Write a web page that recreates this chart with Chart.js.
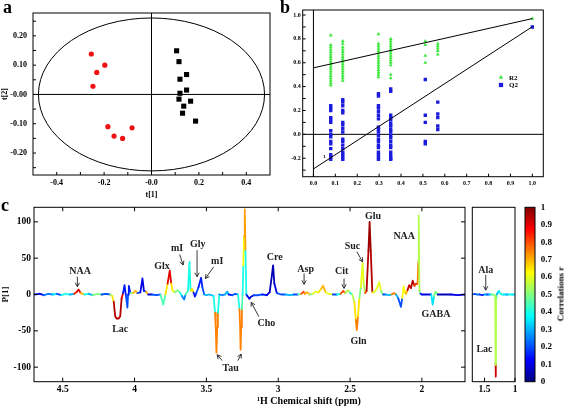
<!DOCTYPE html>
<html>
<head>
<meta charset="utf-8">
<title>Scores, permutation test and loadings</title>
<script src="https://cdn.jsdelivr.net/npm/chart.js@4.4.1/dist/chart.umd.min.js"></script>
<style>
  html, body { margin: 0; padding: 0; background: #fff; }
  body { position: relative; width: 567px; height: 407px; overflow: hidden;
         font-family: "Liberation Serif", "Times New Roman", serif; font-weight: bold; color: #000; }
  canvas { position: absolute; }
  .txt { position: absolute; white-space: nowrap; line-height: 1; }
</style>
</head>
<body>
<canvas id="chartA" width="290" height="200" style="left:0;top:0"></canvas>
<canvas id="chartB" width="287" height="200" style="left:280px;top:0"></canvas>
<canvas id="chartC" width="468" height="212" style="left:0;top:195px"></canvas>
<canvas id="chartD" width="60" height="212" style="left:468px;top:195px"></canvas>
<canvas id="chartE" width="52" height="212" style="left:515px;top:195px"></canvas>
<div class="txt" style="left:3px;top:-2px;font-size:18px">a</div>
<div class="txt" style="left:280px;top:-2px;font-size:18px">b</div>
<div class="txt" style="left:1px;top:196px;font-size:18px">c</div>
<div class="txt" style="left:309px;top:396px;font-size:10px;transform:translateX(-50%)">¹H Chemical shift (ppm)</div>
<div class="txt" style="left:561px;top:294px;font-size:9px;transform:translate(-50%,-50%) rotate(-90deg)">Correlations r</div>
<script>
// ---- panel a: scores
const ctrlX = [0.106, 0.116, 0.120, 0.148, 0.148, 0.120, 0.116, 0.165, 0.136, 0.131, 0.186];
const ctrlY = [0.149, 0.112, 0.052, 0.068, 0.015, 0.004, -0.016, -0.023, -0.040, -0.064, -0.091];
const modelX = [-0.254, -0.197, -0.231, -0.247, -0.184, -0.158, -0.122, -0.082];
const modelY = [0.138, 0.100, 0.075, 0.028, -0.110, -0.142, -0.150, -0.114];
const ellipseR = [0.477, 0.261];
const aTicksX = [-0.4, -0.3, -0.2, -0.1, 0, 0.1, 0.2, 0.3, 0.4];
const aTicksY = [-0.25, -0.2, -0.15, -0.1, -0.05, 0, 0.05, 0.1, 0.15, 0.2, 0.25];

// ---- panel b: permutation test
const permX = [0.079, 0.134, 0.297, 0.353, 0.511, 0.568, 1.0];
const r2Cols = [
  [0.83, 0.75, 0.73, 0.71, 0.69, 0.67, 0.65, 0.63, 0.61, 0.59, 0.57, 0.55, 0.53, 0.51, 0.49, 0.47, 0.45, 0.43, 0.41],
  [0.78, 0.76, 0.73, 0.71, 0.69, 0.67, 0.65, 0.63, 0.61, 0.59, 0.57, 0.55, 0.53, 0.51, 0.49, 0.47, 0.45],
  [0.84, 0.76, 0.74, 0.72, 0.70, 0.68, 0.66, 0.64, 0.62, 0.60, 0.58, 0.56, 0.54, 0.52, 0.50, 0.48],
  [0.80, 0.78, 0.76, 0.74, 0.72, 0.70, 0.68, 0.66, 0.64, 0.62, 0.60, 0.58, 0.50, 0.47],
  [0.78, 0.75, 0.66, 0.60],
  [0.76, 0.74, 0.72, 0.70, 0.67],
  [0.97]
];
const q2Cols = [
  [0.24, 0.22, 0.20, 0.14, 0.12, 0.10, 0.03, 0.00, -0.02, -0.06, -0.08, -0.12, -0.17, -0.19, -0.21],
  [0.29, 0.27, 0.24, 0.20, 0.18, 0.10, 0.08, 0.05, 0.02, -0.04, -0.06, -0.09, -0.12, -0.15, -0.17, -0.19, -0.21],
  [0.34, 0.32, 0.24, 0.22, 0.19, 0.16, 0.13, 0.06, 0.04, 0.02, -0.01, -0.04, -0.06, -0.09, -0.11, -0.15, -0.17, -0.19, -0.21],
  [0.38, 0.36, 0.16, 0.14, 0.12, 0.09, 0.07, 0.04, 0.02, -0.01, -0.03, -0.06, -0.09, -0.11, -0.15, -0.18, -0.20, -0.21],
  [0.46, 0.16, 0.10, -0.06, -0.08],
  [0.27, 0.17, 0.14, 0.07, 0.04],
  [0.90]
];
const fitX = [0, 1];
const r2Fit = [0.557, 0.970];
const q2Fit = [-0.290, 0.902];
const bTicksX = [0, 0.1, 0.2, 0.3, 0.4, 0.5, 0.6, 0.7, 0.8, 0.9, 1.0];
const bTicksY = [-0.3, -0.2, -0.1, 0, 0.1, 0.2, 0.3, 0.4, 0.5, 0.6, 0.7, 0.8, 0.9, 1.0];

// ---- panel c: loadings coloured by correlation
const specPpm = [4.70, 4.66, 4.63, 4.60, 4.57, 4.54, 4.51, 4.48, 4.45, 4.42,
  4.40, 4.39, 4.375, 4.35, 4.32, 4.29, 4.26, 4.23, 4.20, 4.17,
  4.155, 4.145, 4.135, 4.125, 4.11, 4.10, 4.09, 4.08, 4.07, 4.06,
  4.05, 4.045, 4.04, 4.03, 4.01, 3.995, 3.98, 3.96, 3.945, 3.935,
  3.92, 3.905, 3.88, 3.85, 3.82, 3.80, 3.785, 3.77, 3.755, 3.745,
  3.735, 3.72, 3.70, 3.685, 3.67, 3.655, 3.645, 3.628, 3.618, 3.61,
  3.60, 3.59, 3.58, 3.57, 3.555, 3.537, 3.528, 3.515, 3.50, 3.48,
  3.45, 3.44, 3.435, 3.43, 3.425, 3.42, 3.41, 3.39, 3.37, 3.355,
  3.345, 3.32, 3.30, 3.28, 3.27, 3.265, 3.262, 3.258, 3.253, 3.248,
  3.243, 3.238, 3.233, 3.228, 3.222, 3.215, 3.20, 3.19, 3.17, 3.14,
  3.11, 3.08, 3.06, 3.045, 3.036, 3.027, 3.01, 2.98, 2.95, 2.92,
  2.89, 2.86, 2.84, 2.825, 2.815, 2.80, 2.78, 2.76, 2.74, 2.72,
  2.70, 2.688, 2.67, 2.65, 2.62, 2.59, 2.565, 2.548, 2.535, 2.515,
  2.50, 2.485, 2.47, 2.46, 2.453, 2.445, 2.435, 2.425, 2.413, 2.405,
  2.395, 2.385, 2.372, 2.364, 2.356, 2.345, 2.33, 2.31, 2.297, 2.285,
  2.27, 2.25, 2.23, 2.21, 2.195, 2.18, 2.165, 2.146, 2.137, 2.127,
  2.118, 2.11, 2.10, 2.088, 2.076, 2.064, 2.052, 2.04, 2.03, 2.025,
  2.022, 2.017, 2.01, 2.00, 1.97, 1.935, 1.925, 1.915, 1.905, 1.89,
  1.85, 1.80, 1.75, 1.70];
const specP = [0, 1, -1, 1, 0, 1, -1, 1, 0, 1,
  4, 7, 2, 0, 1, -1, 1, 0, 1, 0,
  -2, -10, -30, -33, -33, -30, -5, 2, 13, -2,
  -18, 0, 12, 2, 2, 5, 2, 3, 22, 5,
  4, 0, 0, -1, 0, -14, 0, 15, 33, 15,
  5, 3, 6, 3, -2, -7, 0, 5, 45, 5,
  8, 3, -3, 2, 10, 23, 10, 0, -1, 0,
  -2, -25, -45, -80, -45, -25, 0, -1, 0, 4,
  0, -1, 1, 0, -20, -45, -76, -45, -20, 0,
  40, 80, 117, 60, 0, -2, -6, -3, -1, -1,
  0, -1, 3, 25, 40, 15, 2, 0, 0, -1,
  0, 0, 1, 4, 1, 3, 0, 1, 4, 3,
  8, 12, 3, 1, 0, 0, 1, 5, 2, 6,
  2, 0, -10, -35, -49, -30, -5, 10, 43, 15,
  2, 5, 60, 100, 60, 3, 3, 10, 17, 5,
  0, 0, -1, 0, 2, 0, -5, -17, -5, 11,
  3, 1, 6, 13, 9, 19, 12, 15, 15, 45,
  109, 5, 1, 0, 0, 0, -14, -2, 4, 0,
  0, 0, -1, 0];
const specR = [0.10, 0.15, 0.10, 0.25, 0.15, 0.35, 0.20, 0.40, 0.15, 0.30,
  0.85, 0.90, 0.70, 0.50, 0.40, 0.30, 0.50, 0.35, 0.20, 0.30,
  0.55, 0.65, 0.95, 0.95, 0.95, 0.95, 0.90, 0.30, 0.15, 0.15,
  0.20, 0.20, 0.15, 0.20, 0.50, 0.70, 0.60, 0.20, 0.10, 0.15,
  0.70, 0.40, 0.10, 0.20, 0.40, 0.45, 0.50, 0.65, 0.90, 0.65,
  0.60, 0.55, 0.50, 0.40, 0.20, 0.25, 0.30, 0.45, 0.40, 0.55,
  0.65, 0.50, 0.15, 0.20, 0.20, 0.15, 0.20, 0.30, 0.30, 0.15,
  0.30, 0.40, 0.75, 0.75, 0.75, 0.40, 0.30, 0.25, 0.15, 0.30,
  0.25, 0.15, 0.20, 0.30, 0.40, 0.75, 0.75, 0.75, 0.45, 0.40,
  0.40, 0.62, 0.72, 0.40, 0.35, 0.20, 0.10, 0.10, 0.15, 0.20,
  0.10, 0.15, 0.10, 0.05, 0.05, 0.10, 0.20, 0.30, 0.20, 0.30,
  0.10, 0.20, 0.50, 0.80, 0.75, 0.70, 0.35, 0.50, 0.60, 0.55,
  0.65, 0.70, 0.60, 0.60, 0.35, 0.20, 0.40, 0.80, 0.60, 0.55,
  0.40, 0.35, 0.55, 0.65, 0.75, 0.65, 0.60, 0.50, 0.60, 0.55,
  0.70, 0.80, 0.95, 0.97, 0.95, 0.80, 0.60, 0.60, 0.60, 0.50,
  0.35, 0.20, 0.30, 0.25, 0.75, 0.60, 0.30, 0.20, 0.30, 0.62,
  0.65, 0.50, 0.70, 0.92, 0.90, 0.95, 0.95, 0.80, 0.90, 0.75,
  0.55, 0.50, 0.15, 0.05, 0.10, 0.10, 0.35, 0.30, 0.50, 0.15,
  0.05, 0.05, 0.10, 0.05];
const cTicksX = [4.5, 4, 3.5, 3, 2.5, 2];
const cTicksY = [-100, -50, 0, 50, 100];

const annoText = ['NAA', 'Lac', 'Glx', 'mI', 'Gly', 'mI', 'Cre', 'Cho', 'Tau', 'Asp', 'Cit', 'Suc', 'Glu', 'Gln', 'NAA', 'GABA'];
const annoPpm = [4.379, 4.100, 3.809, 3.704, 3.560, 3.425, 3.025, 3.083, 3.332, 2.809, 2.558, 2.483, 2.340, 2.441, 2.123, 1.902];
const annoP = [32, -47.5, 39, 63.6, 69.5, 45, 50.6, -39.6, -101.6, 34.7, 31.4, 66.7, 107, -65, 79.5, -27];
// arrows: [from ppm, from P, to ppm, to P]
const annoArrows = [
  [4.398, 24.5, 4.398, 10.7], [3.686, 55, 3.662, 40.6], [3.565, 61, 3.565, 24.5],
  [3.449, 38, 3.507, 22], [3.135, -30.5, 3.188, -10.7], [3.390, -91, 3.425, -83],
  [3.281, -91, 3.258, -82], [2.820, 29, 2.820, 14], [2.542, 22, 2.542, 8.5],
  [2.453, 59, 2.413, 45]
];

// ---- panel c inset (1.7 - 1.0 ppm)
const insetPpm = [1.70, 1.66, 1.62, 1.58, 1.54, 1.50, 1.46, 1.42, 1.38, 1.35,
  1.325, 1.32, 1.318, 1.316, 1.314, 1.31, 1.30, 1.28, 1.265, 1.25,
  1.22, 1.18, 1.14, 1.10, 1.05, 1.00];
const insetP = [0, 1, 0, 0, -1, 0, 0, 0, 0, 0,
  -2, -60, -95, -113, -97, -5, 0, 3, 5, 2,
  0, 0, 0, 0, 0, 0];
const insetR = [0.10, 0.20, 0.10, 0.25, 0.15, 0.20, 0.30, 0.20, 0.35, 0.50,
  0.50, 0.55, 0.55, 0.92, 0.55, 0.50, 0.45, 0.30, 0.35, 0.40,
  0.30, 0.40, 0.35, 0.30, 0.40, 0.35];
const insetTicksX = [1.5, 1.0];
const insetText = ['Ala', 'Lac'];
const insetTextPpm = [1.48, 1.50];
const insetTextP = [33.7, -76];
const insetArrows = [[1.48, 27, 1.48, 6]];

const cbarTicks = [0, 0.1, 0.2, 0.3, 0.4, 0.5, 0.6, 0.7, 0.8, 0.9, 1];

// ---------------------------------------------------------------
const FONT = '"Liberation Serif", "Times New Roman", serif';
Chart.defaults.font.family = FONT;
Chart.defaults.font.weight = 'bold';
Chart.defaults.color = '#000';
Chart.defaults.animation = false;
Chart.defaults.responsive = false;
Chart.defaults.devicePixelRatio = 1;
Chart.defaults.events = [];
Chart.defaults.plugins.legend.display = false;
Chart.defaults.plugins.tooltip.enabled = false;

function jet(t) {
  t = Math.max(0, Math.min(1, t));
  const c = v => Math.round(255 * Math.max(0, Math.min(1, v)));
  return 'rgb(' + c(1.5 - Math.abs(4 * t - 3)) + ',' + c(1.5 - Math.abs(4 * t - 2)) + ',' + c(1.5 - Math.abs(4 * t - 1)) + ')';
}

function axis(o) {
  return {
    type: 'linear', min: o.min, max: o.max, reverse: !!o.reverse,
    position: o.position, display: o.display !== false,
    grid: { display: false, drawTicks: false },
    border: { display: false },
    afterBuildTicks: s => { s.ticks = o.ticks.map(v => ({ value: v })); },
    afterFit: s => { if (s.isHorizontal()) s.height = o.size; else s.width = o.size; },
    ticks: { autoSkip: false, maxRotation: 0, minRotation: 0, padding: o.pad,
             font: { size: o.font }, callback: o.fmt, display: o.labels !== false },
    title: o.title ? { display: true, text: o.title, padding: 0, font: { size: o.titleSize } } : { display: false }
  };
}

// box round the plot area with inward tick marks
function framePlugin(o) {
  return {
    id: 'frame',
    afterDatasetsDraw(chart) {
      const { ctx, chartArea: a, scales } = chart;
      const L = o.len || 4;
      ctx.save();
      ctx.strokeStyle = '#000';
      ctx.lineWidth = 1;
      ctx.strokeRect(a.left, a.top, a.right - a.left, a.bottom - a.top);
      ctx.beginPath();
      if (o.x) scales.x.ticks.forEach(t => {
        const p = scales.x.getPixelForValue(t.value);
        if (o.x.includes('b')) { ctx.moveTo(p, a.bottom); ctx.lineTo(p, a.bottom - L); }
        if (o.x.includes('t')) { ctx.moveTo(p, a.top); ctx.lineTo(p, a.top + L); }
      });
      if (o.y) scales.y.ticks.forEach(t => {
        const p = scales.y.getPixelForValue(t.value);
        if (o.y.includes('l')) { ctx.moveTo(a.left, p); ctx.lineTo(a.left + L, p); }
        if (o.y.includes('r')) { ctx.moveTo(a.right, p); ctx.lineTo(a.right - L, p); }
      });
      ctx.stroke();
      ctx.restore();
    }
  };
}

function crossPlugin(ellipse) {
  return {
    id: 'cross',
    beforeDatasetsDraw(chart) {
      const { ctx, chartArea: a, scales: { x, y } } = chart;
      const cx = x.getPixelForValue(0), cy = y.getPixelForValue(0);
      ctx.save();
      ctx.strokeStyle = '#000';
      ctx.lineWidth = 1;
      ctx.beginPath();
      ctx.moveTo(a.left, cy); ctx.lineTo(a.right, cy);
      ctx.moveTo(cx, a.top); ctx.lineTo(cx, a.bottom);
      if (ellipse) {
        const rx = x.getPixelForValue(ellipse[0]) - cx;
        const ry = cy - y.getPixelForValue(ellipse[1]);
        ctx.moveTo(cx + rx, cy);
        ctx.ellipse(cx, cy, rx, ry, 0, 0, Math.PI * 2);
      }
      ctx.stroke();
      ctx.restore();
    }
  };
}

function arrow(ctx, x0, y0, x1, y1) {
  const ang = Math.atan2(y1 - y0, x1 - x0), h = 4.5;
  ctx.beginPath();
  ctx.moveTo(x0, y0); ctx.lineTo(x1, y1);
  ctx.moveTo(x1 - h * Math.cos(ang - 0.5), y1 - h * Math.sin(ang - 0.5));
  ctx.lineTo(x1, y1);
  ctx.lineTo(x1 - h * Math.cos(ang + 0.5), y1 - h * Math.sin(ang + 0.5));
  ctx.stroke();
}

function annoPlugin(texts, tx, ty, arrows) {
  return {
    id: 'anno',
    afterDatasetsDraw(chart) {
      const { ctx, scales: { x, y } } = chart;
      ctx.save();
      ctx.font = 'bold 10px ' + FONT;
      ctx.fillStyle = '#222';
      ctx.strokeStyle = '#222';
      ctx.lineWidth = 0.9;
      ctx.textAlign = 'center';
      ctx.textBaseline = 'middle';
      texts.forEach((t, i) => ctx.fillText(t, x.getPixelForValue(tx[i]), y.getPixelForValue(ty[i])));
      arrows.forEach(a => arrow(ctx, x.getPixelForValue(a[0]), y.getPixelForValue(a[1]),
                                     x.getPixelForValue(a[2]), y.getPixelForValue(a[3])));
      ctx.restore();
    }
  };
}

// segment takes the colour of its more extreme end point
function segColor(P, R) {
  return c => {
    const i = c.p0DataIndex, j = c.p1DataIndex;
    return jet(Math.abs(P[j]) >= Math.abs(P[i]) ? R[j] : R[i]);
  };
}

const pts = (xs, ys) => xs.map((v, i) => ({ x: v, y: ys[i] }));

// ---- a
new Chart(document.getElementById('chartA'), {
  type: 'scatter',
  data: {
    datasets: [
      { data: pts(ctrlX, ctrlY), pointStyle: 'rect', pointRadius: 3.6, backgroundColor: '#000', borderWidth: 0 },
      { data: pts(modelX, modelY), pointStyle: 'circle', pointRadius: 2.6, backgroundColor: '#f01212', borderWidth: 0 }
    ]
  },
  options: {
    layout: { padding: { top: 13, right: 20, left: 0, bottom: 0 } },
    scales: {
      x: axis({ min: -0.5, max: 0.5, ticks: aTicksX, size: 25, pad: 3, font: 8, title: 't[1]', titleSize: 8,
                fmt: v => Math.round(Math.abs(v) * 10) % 2 ? '' : (v === 0 ? '-0.0' : v.toFixed(1)) }),
      y: axis({ min: -0.275, max: 0.278, ticks: aTicksY, size: 33, pad: 6, font: 8, title: 't[2]', titleSize: 8,
                fmt: v => Math.round(Math.abs(v) * 100) % 10 ? '' : (v === 0 ? '-0.00' : v.toFixed(2)) })
    }
  },
  plugins: [crossPlugin(ellipseR), framePlugin({ x: 'b', y: 'l', len: 3 })]
});

// ---- b
const r2Pts = [], q2Pts = [];
permX.forEach((px, k) => {
  r2Cols[k].forEach(v => r2Pts.push({ x: px, y: v }));
  q2Cols[k].forEach(v => q2Pts.push({ x: px, y: v }));
});
const legendB = {
  id: 'legendB',
  afterDraw(chart) {
    const ctx = chart.ctx;
    ctx.save();
    ctx.fillStyle = '#3ee63e';
    Chart.helpers.drawPoint(ctx, { pointStyle: 'triangle', radius: 2.6, rotation: 0, borderWidth: 0 }, 221, 77.5);
    ctx.fillStyle = '#1c1cdc';
    Chart.helpers.drawPoint(ctx, { pointStyle: 'rect', radius: 3, rotation: 0, borderWidth: 0 }, 221, 85);
    ctx.fillStyle = '#000';
    ctx.font = 'bold 7px ' + FONT;
    ctx.textBaseline = 'middle';
    ctx.fillText('R2', 229, 78);
    ctx.fillText('Q2', 229, 85.5);
    ctx.font = 'bold 5px ' + FONT;
    const { x, y } = chart.scales;
    ctx.fillText('1', x.getPixelForValue(0.045), y.getPixelForValue(-0.19));
    ctx.restore();
  }
};
new Chart(document.getElementById('chartB'), {
  type: 'scatter',
  data: {
    datasets: [
      { type: 'line', data: pts(fitX, r2Fit), borderColor: '#000', borderWidth: 1, pointRadius: 0 },
      { type: 'line', data: pts(fitX, q2Fit), borderColor: '#000', borderWidth: 1, pointRadius: 0 },
      { label: 'R2', data: r2Pts, pointStyle: 'triangle', pointRadius: 2.2, backgroundColor: '#3ee63e', borderWidth: 0 },
      { label: 'Q2', data: q2Pts, pointStyle: 'rect', pointRadius: 2.4, backgroundColor: '#1c1cdc', borderWidth: 0 }
    ]
  },
  options: {
    layout: { padding: { top: 10, right: 23.7, left: 0, bottom: 0 } },
    scales: {
      x: axis({ min: -0.049, max: 1.05, ticks: bTicksX, size: 23.3, pad: 3, font: 6, fmt: v => v.toFixed(1) }),
      y: axis({ min: -0.355, max: 1.042, ticks: bTicksY, size: 22.7, pad: 2, font: 6,
                fmt: v => Math.round(Math.abs(v) * 10) % 2 ? '' : v.toFixed(1) })
    }
  },
  plugins: [crossPlugin(null), framePlugin({ x: 'b', y: 'l', len: 3 }), legendB]
});

// ---- c main
new Chart(document.getElementById('chartC'), {
  type: 'line',
  data: {
    datasets: [{
      data: pts(specPpm, specP), borderWidth: 1.8, pointRadius: 0, tension: 0,
      borderColor: jet(0.1), borderJoinStyle: 'round', borderCapStyle: 'round',
      segment: { borderColor: segColor(specP, specR) }
    }]
  },
  options: {
    layout: { padding: { top: 12.3, right: 3, left: 0, bottom: 0 } },
    scales: {
      x: axis({ min: 1.7, max: 4.7, reverse: true, ticks: cTicksX, size: 25.3, pad: 2, font: 9.5, fmt: v => String(v) }),
      y: axis({ min: -120, max: 120, ticks: cTicksY, size: 34, pad: 3, font: 9.5, title: 'P[1]', titleSize: 9, fmt: v => String(v) })
    }
  },
  plugins: [framePlugin({ x: 'bt', y: 'lr', len: 4 }), annoPlugin(annoText, annoPpm, annoP, annoArrows)]
});

// ---- c inset
new Chart(document.getElementById('chartD'), {
  type: 'line',
  data: {
    datasets: [{
      data: pts(insetPpm, insetP), borderWidth: 1.8, pointRadius: 0, tension: 0,
      borderColor: jet(0.1), borderJoinStyle: 'round', borderCapStyle: 'round',
      segment: { borderColor: segColor(insetP, insetR) }
    }]
  },
  options: {
    layout: { padding: { top: 12.3, right: 13, left: 4.3, bottom: 0 } },
    scales: {
      x: axis({ min: 1.0, max: 1.7, reverse: true, ticks: insetTicksX, size: 25.3, pad: 2, font: 9.5,
                fmt: v => (v === 1 ? '1' : String(v)) }),
      y: { type: 'linear', display: false, min: -120, max: 120 }
    }
  },
  plugins: [framePlugin({ x: 'b', len: 4 }), annoPlugin(insetText, insetTextPpm, insetTextP, insetArrows)]
});

// ---- colour bar
const cbarPlugin = {
  id: 'cbar',
  beforeDatasetsDraw(chart) {
    const { ctx, chartArea: a } = chart;
    const g = ctx.createLinearGradient(0, a.bottom, 0, a.top);
    for (let k = 0; k <= 32; k++) g.addColorStop(k / 32, jet(k / 32));
    ctx.save();
    ctx.fillStyle = g;
    ctx.fillRect(a.left, a.top, a.right - a.left, a.bottom - a.top);
    ctx.restore();
  }
};
new Chart(document.getElementById('chartE'), {
  type: 'scatter',
  data: { datasets: [] },
  options: {
    layout: { padding: { top: 12.3, right: 0, left: 10, bottom: 25.3 } },
    scales: {
      x: { type: 'linear', display: false, min: 0, max: 1 },
      y: axis({ min: 0, max: 1, ticks: cbarTicks, position: 'right', size: 32, pad: 5.7, font: 9,
                fmt: v => (v === 0 ? '0' : v === 1 ? '1' : v.toFixed(1)) })
    }
  },
  plugins: [cbarPlugin, framePlugin({})]
});
</script>
</body>
</html>
